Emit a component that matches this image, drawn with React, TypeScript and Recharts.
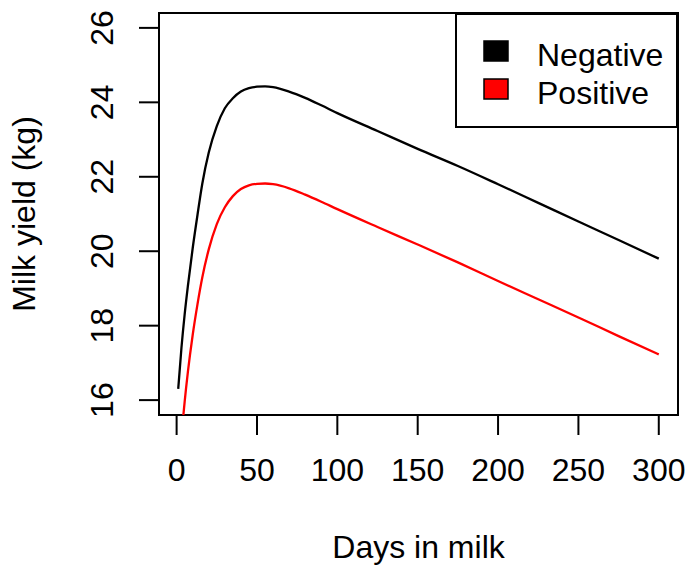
import { LineChart, Line, XAxis, YAxis, Legend, ReferenceArea, Label } from 'recharts';

// days in milk at which the curves were read
const days = [1, 3, 5, 7, 10, 13, 16, 20, 25, 30, 35, 40, 45, 50, 55, 60, 70, 80, 90, 100, 125, 150, 175, 200, 225, 250, 275, 300];
const negative = [16.3, 17.4, 18.3, 19.06, 20.08, 20.98, 21.82, 22.65, 23.36, 23.84, 24.11, 24.29, 24.38, 24.42, 24.43, 24.41, 24.29, 24.12, 23.92, 23.71, 23.23, 22.75, 22.29, 21.8, 21.3, 20.8, 20.3, 19.8];
const positive = [13.85, 15.0, 15.95, 16.75, 17.75, 18.58, 19.3, 20.05, 20.73, 21.18, 21.48, 21.67, 21.77, 21.81, 21.82, 21.8, 21.69, 21.52, 21.33, 21.13, 20.65, 20.18, 19.7, 19.2, 18.71, 18.22, 17.72, 17.23];
const xTicks = [0, 50, 100, 150, 200, 250, 300];
const yTicks = [16, 18, 20, 22, 24, 26];

const data = days.map((d, i) => ({ day: d, Negative: negative[i], Positive: positive[i] }));

// R style axis limits (4% extension)
const xMin = -10.96, xMax = 311.96;
const yMin = 15.6, yMax = 26.4;

const FONT = '"Liberation Sans", Arial, sans-serif';

const XTick = ({ x, y, payload }: any) => (
  <text x={x} y={y + 46} textAnchor="middle" fontSize={32} fontFamily={FONT} fill="#000">{payload.value}</text>
);

const YTick = ({ x, y, payload }: any) => (
  <text x={x - 26} y={y} transform={`rotate(-90, ${x - 26}, ${y})`} textAnchor="middle" fontSize={32} fontFamily={FONT} fill="#000">{payload.value}</text>
);

const YTitle = ({ viewBox }: any) => {
  const cx = 35;
  const cy = viewBox.y + viewBox.height / 2;
  return (
    <text x={cx} y={cy} transform={`rotate(-90, ${cx}, ${cy})`} textAnchor="middle" fontSize={32} fontFamily={FONT} fill="#000">Milk yield (kg)</text>
  );
};

const XTitle = ({ viewBox }: any) => (
  <text x={viewBox.x + viewBox.width / 2} y={558} textAnchor="middle" fontSize={32} fontFamily={FONT} fill="#000">Days in milk</text>
);

const LegendBox = ({ payload }: any) => (
  <div style={{ width: 223, height: 115, border: '2px solid #000', boxSizing: 'border-box', background: '#fff' }}>
    <svg width={219} height={111} style={{ display: 'block' }}>
      {(payload || []).map((p: any, i: number) => (
        <g key={p.value}>
          <rect x={27} y={26 + i * 38} width={24} height={20} fill={p.color} stroke="#000" strokeWidth={1.5} />
          <text x={80} y={51 + i * 38} fontSize={32} fontFamily={FONT} fill="#000">{p.value}</text>
        </g>
      ))}
    </svg>
  </div>
);

export default function App() {
  return (
    <div style={{ position: 'absolute', left: 0, top: 0, width: 690, height: 574, background: '#fff' }}>
      <LineChart width={690} height={574} data={data} margin={{ top: 13, right: 12, left: 0, bottom: 0 }}>
        <XAxis
          dataKey="day"
          type="number"
          domain={[xMin, xMax]}
          ticks={xTicks}
          allowDataOverflow
          height={159}
          axisLine={false}
          tickSize={20}
          tickMargin={0}
          tickLine={{ stroke: '#000', strokeWidth: 2 }}
          tick={<XTick />}
        >
          <Label content={<XTitle />} />
        </XAxis>
        <YAxis
          type="number"
          domain={[yMin, yMax]}
          ticks={yTicks}
          allowDataOverflow
          width={159}
          axisLine={false}
          tickSize={20}
          tickMargin={0}
          tickLine={{ stroke: '#000', strokeWidth: 2 }}
          tick={<YTick />}
        >
          <Label content={<YTitle />} />
        </YAxis>
        <Line dataKey="Negative" type="monotone" stroke="#000000" strokeWidth={2.3} dot={false} isAnimationActive={false} />
        <Line dataKey="Positive" type="monotone" stroke="#FF0000" strokeWidth={2.3} dot={false} isAnimationActive={false} />
        <ReferenceArea x1={xMin} x2={xMax} y1={yMin} y2={yMax} fill="none" fillOpacity={0} stroke="#000" strokeWidth={2} ifOverflow="visible" />
        <Legend
          layout="vertical"
          align="center"
          verticalAlign="middle"
          wrapperStyle={{ top: 13, left: 455, width: 223, height: 115 }}
          content={<LegendBox />}
        />
      </LineChart>
    </div>
  );
}
